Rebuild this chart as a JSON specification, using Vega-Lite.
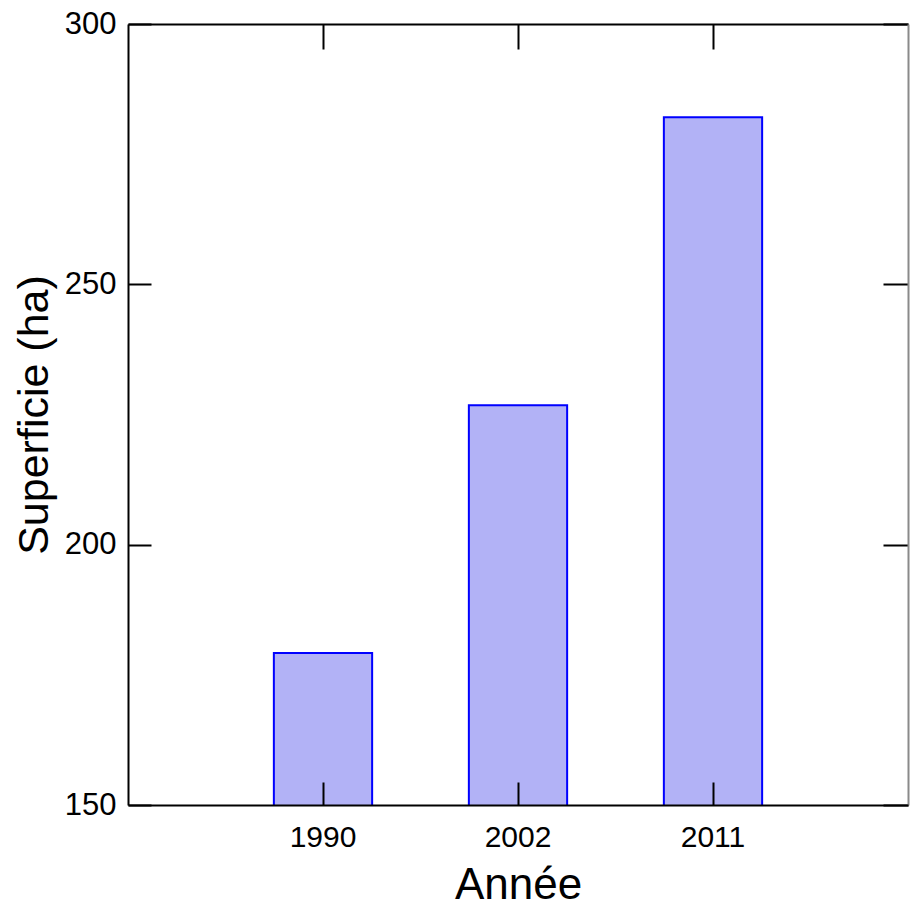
{
  "$schema": "https://vega.github.io/schema/vega-lite/v6.json",
  "autosize": "none",
  "width": 780,
  "height": 781,
  "padding": {"left": 128, "top": 24, "right": 6, "bottom": 103},
  "background": "white",
  "config": {
    "view": {"stroke": null},
    "font": "Liberation Sans",
    "axis": {
      "labelFont": "Liberation Sans",
      "titleFont": "Liberation Sans",
      "labelColor": "black",
      "titleColor": "black",
      "domainColor": "black",
      "tickColor": "black",
      "grid": false,
      "domainWidth": 2,
      "tickWidth": 2,
      "titleFontWeight": "normal"
    }
  },
  "data": {
    "values": [
      {"annee": "1990", "superficie": 179.2},
      {"annee": "2002", "superficie": 226.8},
      {"annee": "2011", "superficie": 282.1}
    ]
  },
  "resolve": {"axis": {"x": "independent", "y": "independent"}},
  "layer": [
    {
      "mark": {"type": "bar", "fill": "#b2b2f6", "stroke": "#0000ff", "strokeWidth": 2, "clip": true},
      "encoding": {
        "x": {
          "field": "annee",
          "type": "ordinal",
          "scale": {"paddingInner": 0.496, "paddingOuter": 0.748},
          "axis": {
            "orient": "bottom",
            "title": "Année",
            "titleFontSize": 44,
            "titlePadding": 11,
            "labelFontSize": 30,
            "labelAngle": 0,
            "tickSize": -23,
            "labelPadding": 40,
            "zindex": 1
          }
        },
        "y": {
          "field": "superficie",
          "type": "quantitative",
          "scale": {"domain": [150, 300], "nice": false, "zero": false},
          "axis": {
            "orient": "left",
            "title": "Superficie (ha)",
            "titleFontSize": 43,
            "titlePadding": 8,
            "labelFontSize": 31,
            "values": [150, 200, 250, 300],
            "tickSize": -23,
            "labelPadding": 35
          }
        }
      }
    },
    {
      "mark": {"type": "bar", "opacity": 0, "clip": true},
      "encoding": {
        "x": {
          "field": "annee",
          "type": "ordinal",
          "axis": {"orient": "top", "title": null, "labels": false, "tickSize": -25}
        },
        "y": {
          "field": "superficie",
          "type": "quantitative",
          "axis": {
            "orient": "right",
            "title": null,
            "labels": false,
            "values": [150, 200, 250, 300],
            "tickSize": -25,
            "domainColor": "#8a8a8a"
          }
        }
      }
    }
  ]
}
